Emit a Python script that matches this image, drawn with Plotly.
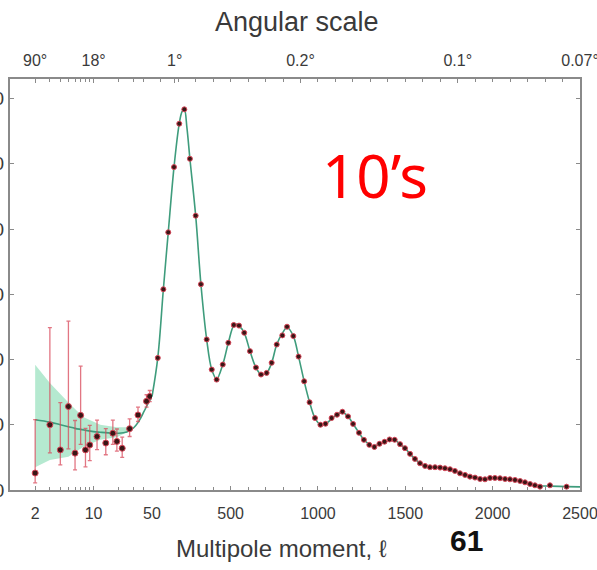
import math
import plotly.graph_objects as go

# ---- low multipoles (log-scaled section, 2 <= l <= 50) ----
lowl_ell = [2, 3, 4, 5, 6, 7, 8, 9, 11, 14, 17, 19, 22, 27, 34, 43, 47]
lowl_D = [260, 1000, 615, 1280, 565, 1145, 615, 690, 820, 720, 870, 745, 640, 940, 1150, 1360, 1435]
lowl_err_plus = [820, 1490, 725, 1310, 500, 755, 330, 300, 250, 220, 200, 190, 170, 150, 120, 100, 90]
lowl_err_minus = [150, 430, 230, 650, 255, 445, 260, 240, 200, 180, 170, 150, 140, 120, 100, 90, 80]

theory_low_ell = [2, 3, 4, 5, 6, 8, 10, 12, 15, 20, 25, 30, 35, 40, 45, 50]
theory_low_D = [1077, 1040, 1000, 970, 945, 915, 895, 885, 875, 870, 890, 950, 1060, 1200, 1330, 1430]

band_ell = [2, 3, 5, 7.5, 12, 19, 30]
band_hi = [1920, 1640, 1340, 1120, 1000, 960, 960]
band_lo = [350, 460, 510, 660, 770, 810, 940]

# ---- binned high multipoles (linear section, 50 <= l <= 2500) ----
highl_ell = [83, 115, 143, 176, 206, 235, 267, 300, 330, 363, 392, 420, 455, 487, 518, 548,
             578, 611, 645, 674, 706, 735, 764, 796, 823, 859, 889, 921, 952, 983, 1014,
             1043, 1078, 1109, 1140, 1172, 1201, 1235, 1263, 1294, 1323, 1352, 1381, 1410,
             1439, 1470, 1498, 1527, 1555, 1584, 1613, 1641, 1670, 1699, 1727, 1756, 1784,
             1813, 1842, 1870, 1899, 1928, 1956, 1985, 2013, 2042, 2071, 2099, 2128, 2157,
             2185, 2214, 2242, 2271, 2328, 2423]
highl_D = [2025, 3077, 3950, 4950, 5615, 5835, 5077, 4205, 3154, 2308, 1846, 1692, 1923, 2257,
           2530, 2520, 2410, 2128, 1877, 1770, 1795, 1950, 2230, 2370, 2503, 2360, 2045, 1666,
           1345, 1103, 1000, 1015, 1103, 1154, 1200, 1128, 1013, 877, 769, 692, 660, 708, 740,
           775, 770, 703, 641, 554, 477, 410, 369, 349, 349, 343, 333, 318, 292, 256, 231, 205,
           190, 169, 164, 185, 185, 180, 169, 164, 154, 138, 118, 92, 72, 51, 72, 51]

theory_high_ell = [50, 83, 115, 143, 176, 206, 222, 235, 250, 267, 300, 330, 363, 392, 420, 455,
                   487, 518, 535, 548, 578, 611, 645, 674, 706, 735, 764, 796, 823, 859, 889,
                   921, 952, 983, 1014, 1043, 1078, 1109, 1140, 1172, 1201, 1235, 1263, 1294,
                   1323, 1352, 1381, 1410, 1439, 1470, 1498, 1527, 1555, 1584, 1613, 1641, 1670,
                   1699, 1727, 1756, 1784, 1813, 1842, 1870, 1899, 1928, 1956, 1985, 2013, 2042,
                   2071, 2099, 2128, 2157, 2185, 2214, 2242, 2271, 2328, 2423, 2500]
theory_high_D = [1430, 2025, 3077, 3950, 4950, 5615, 5800, 5835, 5550, 5077, 4205, 3154, 2308,
                 1846, 1700, 1923, 2257, 2520, 2545, 2520, 2410, 2128, 1877, 1770, 1795, 1950,
                 2230, 2400, 2490, 2360, 2045, 1666, 1345, 1103, 1005, 1015, 1090, 1160, 1190,
                 1128, 1013, 877, 769, 700, 675, 705, 740, 770, 765, 703, 641, 554, 477, 410,
                 369, 352, 349, 343, 333, 316, 290, 258, 231, 207, 190, 175, 172, 180, 180, 176,
                 169, 162, 152, 138, 118, 95, 76, 64, 60, 52, 48]

# ---- axis ticks ----
bottom_log_ticks = [2, 10]
bottom_log_labels = ["2", "10"]
bottom_lin_ticks = [50, 500, 1000, 1500, 2000, 2500]
bottom_lin_labels = ["50", "500", "1000", "1500", "2000", "2500"]
top_log_ticks = [2, 10]
top_log_labels = ["90°", "18°"]
top_lin_ticks = [180, 900, 1800, 2500]
top_lin_labels = ["1°", "0.2°", "0.1°", "0.07°"]
y_ticks = [0, 1000, 2000, 3000, 4000, 5000, 6000]

# ---- styling ----
FONT = "Liberation Sans, Arial"
TXT = "#3a3a3a"
AXC = "#8a8a8a"
LINE_C = "#3e9c7c"
BAND_C = "rgba(120,215,170,0.55)"
DOT_C = "#3a1616"
RED = "#d8485a"

W, H = 597, 570
ML, MR, MT, MB = 10, 17, 79, 80
SPLIT = (152 - ML) / (W - ML - MR)
Y_RANGE = [0, 6300]

fig = go.Figure()

# cosmic variance band at low l
fig.add_trace(go.Scatter(x=band_ell, y=band_hi, mode="lines", line=dict(width=0),
                         xaxis="x", yaxis="y", hoverinfo="skip", showlegend=False))
fig.add_trace(go.Scatter(x=band_ell, y=band_lo, mode="lines", line=dict(width=0),
                         fill="tonexty", fillcolor=BAND_C,
                         xaxis="x", yaxis="y", hoverinfo="skip", showlegend=False))

# best-fit model curve
fig.add_trace(go.Scatter(x=theory_low_ell, y=theory_low_D, mode="lines",
                         line=dict(color=LINE_C, width=1.6, shape="spline"),
                         xaxis="x", yaxis="y", showlegend=False))
fig.add_trace(go.Scatter(x=theory_high_ell, y=theory_high_D, mode="lines",
                         line=dict(color=LINE_C, width=1.6, shape="spline"),
                         xaxis="x2", yaxis="y2", showlegend=False))

# low-l measurements with asymmetric errors
fig.add_trace(go.Scatter(x=lowl_ell, y=lowl_D, mode="markers",
                         marker=dict(color=DOT_C, size=6, line=dict(color=RED, width=1)),
                         error_y=dict(type="data", symmetric=False, array=lowl_err_plus,
                                      arrayminus=lowl_err_minus, color="rgba(216,72,90,0.75)",
                                      thickness=1.3, width=2),
                         xaxis="x", yaxis="y", showlegend=False))

# binned high-l measurements
fig.add_trace(go.Scatter(x=highl_ell, y=highl_D, mode="markers",
                         marker=dict(color=DOT_C, size=5, line=dict(color=RED, width=1)),
                         xaxis="x2", yaxis="y2", showlegend=False))

# empty traces so the top (angular scale) axes get their own subplots
fig.add_trace(go.Scatter(x=[], y=[], xaxis="x3", yaxis="y", showlegend=False))
fig.add_trace(go.Scatter(x=[], y=[], xaxis="x4", yaxis="y2", showlegend=False))

tickfont = dict(family=FONT, size=16, color=TXT)
log_range = [0, math.log10(50)]
lin_range = [49.99, 2500.01]

common_x = dict(showgrid=False, zeroline=False, showline=True, linecolor=AXC, linewidth=2,
                ticks="inside", ticklen=4, tickcolor=AXC, tickfont=tickfont,
                automargin=False, ticklabeloverflow="allow")
log_minor = dict(tickvals=[3, 4, 5, 6, 7, 8, 9, 20, 30, 40], ticks="inside",
                 ticklen=3, tickcolor=AXC)
lin_minor = dict(dtick=100, ticks="inside", ticklen=3, tickcolor=AXC)

fig.update_layout(
    width=W, height=H,
    margin=dict(l=ML, r=MR, t=MT, b=MB, autoexpand=False),
    paper_bgcolor="white", plot_bgcolor="white",
    xaxis=dict(type="log", domain=[0, SPLIT], range=log_range, anchor="y",
               tickvals=bottom_log_ticks, ticktext=bottom_log_labels, mirror=True,
               ticklabelstandoff=8, minor=log_minor, **common_x),
    xaxis2=dict(type="linear", domain=[SPLIT, 1], range=lin_range, anchor="y2",
                tickvals=bottom_lin_ticks, ticktext=bottom_lin_labels, mirror=True,
                ticklabelstandoff=8, minor=lin_minor, **common_x),
    xaxis3=dict(type="log", overlaying="x", side="top", range=log_range, anchor="y",
                tickvals=top_log_ticks, ticktext=top_log_labels, ticklabelstandoff=5,
                minor=log_minor, **common_x),
    xaxis4=dict(type="linear", overlaying="x2", side="top", range=lin_range, anchor="y2",
                tickvals=top_lin_ticks, ticktext=top_lin_labels, ticklabelstandoff=5,
                minor=lin_minor, **common_x),
    yaxis=dict(range=Y_RANGE, anchor="x", tickvals=y_ticks, showgrid=False, zeroline=False,
               showline=True, linecolor=AXC, linewidth=2, ticks="inside", ticklen=4,
               tickcolor=AXC, tickfont=dict(family=FONT, size=19, color=TXT),
               automargin=False, ticklabeloverflow="allow"),
    yaxis2=dict(range=Y_RANGE, anchor="x2", side="right", matches="y", tickvals=y_ticks,
                showgrid=False, zeroline=False, showline=True, linecolor=AXC, linewidth=2,
                ticks="inside", ticklen=4, tickcolor=AXC, showticklabels=False,
                automargin=False),
)

plot_w = W - ML - MR
plot_h = H - MT - MB


def px(xp):
    return (xp - ML) / plot_w


def py(yp):
    return (H - MB - yp) / plot_h


def label(text, x, y, font):
    fig.add_annotation(text=text, x=px(x), y=py(y), xref="paper", yref="paper",
                       xanchor="center", yanchor="middle", showarrow=False, font=font)


label("Angular scale", 297, 22, dict(family=FONT, size=27, color=TXT))
label("Multipole moment, ℓ", 281, 548, dict(family=FONT, size=24, color=TXT))
label("10’s", 375, 175, dict(family="Comic Sans MS, Noto Sans", size=60, color="#ff0000"))
label("<b>61</b>", 466, 540, dict(family="Liberation Sans, Arial", size=30, color="#111111"))

fig.write_html("out.html")
